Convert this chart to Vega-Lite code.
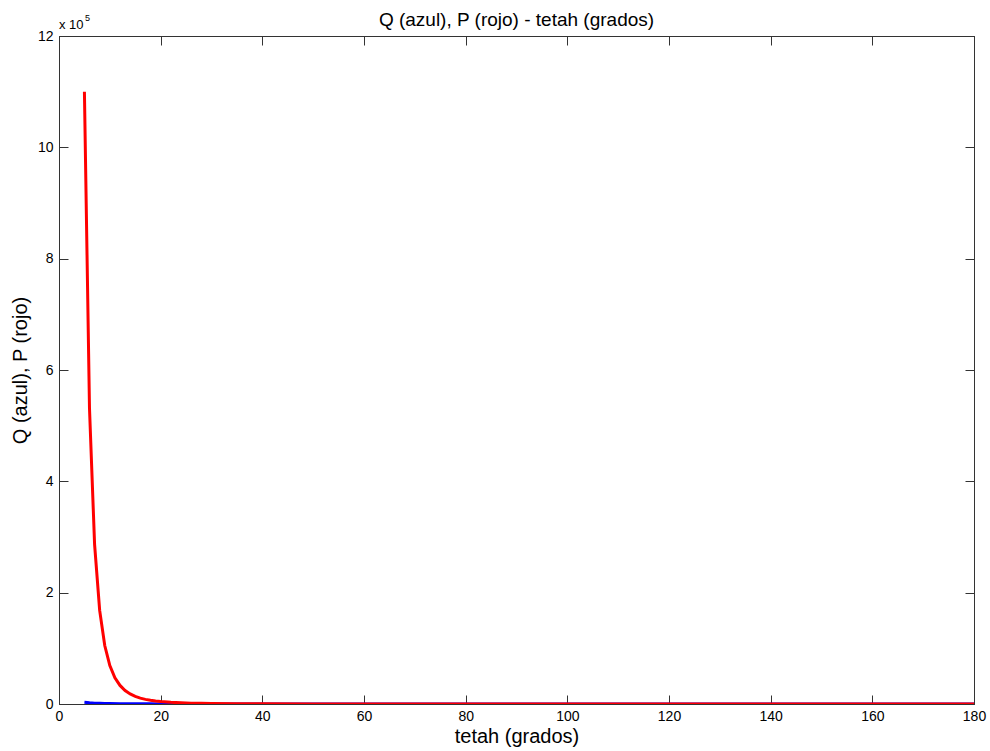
{
  "$schema": "https://vega.github.io/schema/vega-lite/v6.json",
  "autosize": "none",
  "width": 915,
  "height": 668,
  "padding": {"left": 59, "top": 36, "right": 16, "bottom": 47},
  "background": "white",
  "title": {
    "text": "Q (azul), P (rojo) - tetah (grados)",
    "font": "Liberation Sans",
    "fontSize": 19,
    "fontWeight": "normal",
    "color": "#000",
    "offset": -16
  },
  "config": {
    "view": {"stroke": "#333", "strokeWidth": 1},
    "axis": {
      "grid": false,
      "domainColor": "#333",
      "tickColor": "#333",
      "labelFont": "Liberation Sans",
      "labelFontSize": 14,
      "labelColor": "#000",
      "titleFont": "Liberation Sans",
      "titleFontSize": 20,
      "titleFontWeight": "normal",
      "titleColor": "#000"
    }
  },
  "datasets": {
    "curvas": [
      {"theta": 5, "serie": "P", "valor": 1100000},
      {"theta": 6, "serie": "P", "valor": 530775},
      {"theta": 7, "serie": "P", "valor": 286690},
      {"theta": 8, "serie": "P", "valor": 168179},
      {"theta": 9, "serie": "P", "valor": 105084},
      {"theta": 10, "serie": "P", "valor": 69012},
      {"theta": 11, "serie": "P", "valor": 47187},
      {"theta": 12, "serie": "P", "valor": 33356},
      {"theta": 13, "serie": "P", "valor": 24248},
      {"theta": 14, "serie": "P", "valor": 18052},
      {"theta": 15, "serie": "P", "valor": 13719},
      {"theta": 16, "serie": "P", "valor": 10614},
      {"theta": 17, "serie": "P", "valor": 8343},
      {"theta": 18, "serie": "P", "valor": 6649},
      {"theta": 19, "serie": "P", "valor": 5366},
      {"theta": 20, "serie": "P", "valor": 4380},
      {"theta": 22, "serie": "P", "valor": 3004},
      {"theta": 24, "serie": "P", "valor": 2131},
      {"theta": 26, "serie": "P", "valor": 1555},
      {"theta": 28, "serie": "P", "valor": 1163},
      {"theta": 30, "serie": "P", "valor": 887},
      {"theta": 35, "serie": "P", "valor": 487},
      {"theta": 40, "serie": "P", "valor": 291},
      {"theta": 50, "serie": "P", "valor": 125},
      {"theta": 60, "serie": "P", "valor": 63.7},
      {"theta": 80, "serie": "P", "valor": 23.3},
      {"theta": 100, "serie": "P", "valor": 11.6},
      {"theta": 120, "serie": "P", "valor": 7.08},
      {"theta": 140, "serie": "P", "valor": 5.11},
      {"theta": 160, "serie": "P", "valor": 4.23},
      {"theta": 180, "serie": "P", "valor": 3.98},
      {"theta": 5, "serie": "Q", "valor": 3000},
      {"theta": 6, "serie": "Q", "valor": 2085},
      {"theta": 7, "serie": "Q", "valor": 1532},
      {"theta": 8, "serie": "Q", "valor": 1173},
      {"theta": 9, "serie": "Q", "valor": 928},
      {"theta": 10, "serie": "Q", "valor": 752},
      {"theta": 12, "serie": "Q", "valor": 523},
      {"theta": 14, "serie": "Q", "valor": 384},
      {"theta": 16, "serie": "Q", "valor": 295},
      {"theta": 18, "serie": "Q", "valor": 233},
      {"theta": 20, "serie": "Q", "valor": 189},
      {"theta": 25, "serie": "Q", "valor": 122},
      {"theta": 30, "serie": "Q", "valor": 85},
      {"theta": 40, "serie": "Q", "valor": 49},
      {"theta": 60, "serie": "Q", "valor": 23},
      {"theta": 80, "serie": "Q", "valor": 14},
      {"theta": 100, "serie": "Q", "valor": 9.7},
      {"theta": 120, "serie": "Q", "valor": 7.6},
      {"theta": 140, "serie": "Q", "valor": 6.5},
      {"theta": 160, "serie": "Q", "valor": 5.9},
      {"theta": 180, "serie": "Q", "valor": 5.7}
    ],
    "exponente": [
      {"theta": 0, "valor": 1200000}
    ]
  },
  "resolve": {"axis": {"x": "independent", "y": "independent"}},
  "layer": [
    {
      "data": {"name": "curvas"},
      "transform": [{"filter": "datum.serie === 'Q'"}],
      "mark": {"type": "line", "color": "#0000ff", "strokeWidth": 3, "clip": true},
      "encoding": {
        "x": {
          "field": "theta", "type": "quantitative",
          "scale": {"domain": [0, 180], "nice": false, "zero": false},
          "axis": {
            "orient": "bottom", "title": "tetah (grados)",
            "values": [0, 20, 40, 60, 80, 100, 120, 140, 160, 180],
            "tickSize": -9, "labelPadding": 14, "titlePadding": 3,
            "labelFlush": false
          }
        },
        "y": {
          "field": "valor", "type": "quantitative",
          "scale": {"domain": [0, 1200000], "nice": false},
          "axis": {
            "orient": "left", "title": "Q (azul), P (rojo)",
            "values": [0, 200000, 400000, 600000, 800000, 1000000, 1200000],
            "labelExpr": "format(datum.value / 100000, 'd')",
            "tickSize": -9, "labelPadding": 15, "titlePadding": 7,
            "labelFlush": false
          }
        }
      }
    },
    {
      "data": {"name": "curvas"},
      "transform": [{"filter": "datum.serie === 'P'"}],
      "mark": {"type": "line", "color": "#ff0000", "strokeWidth": 3, "clip": true},
      "encoding": {
        "x": {
          "field": "theta", "type": "quantitative",
          "axis": {
            "orient": "top", "title": null, "labels": false,
            "values": [0, 20, 40, 60, 80, 100, 120, 140, 160, 180],
            "tickSize": -9
          }
        },
        "y": {
          "field": "valor", "type": "quantitative",
          "axis": {
            "orient": "right", "title": null, "labels": false,
            "values": [0, 200000, 400000, 600000, 800000, 1000000, 1200000],
            "tickSize": -9
          }
        }
      }
    },
    {
      "data": {"name": "exponente"},
      "mark": {"type": "text", "text": "x 10", "font": "Liberation Sans", "fontSize": 13, "align": "left", "baseline": "alphabetic", "dx": 0, "dy": -7, "color": "#000"},
      "encoding": {
        "x": {"field": "theta", "type": "quantitative", "axis": null},
        "y": {"field": "valor", "type": "quantitative", "axis": null}
      }
    },
    {
      "data": {"name": "exponente"},
      "mark": {"type": "text", "text": "5", "font": "Liberation Sans", "fontSize": 9, "align": "left", "baseline": "alphabetic", "dx": 26, "dy": -15, "color": "#000"},
      "encoding": {
        "x": {"field": "theta", "type": "quantitative", "axis": null},
        "y": {"field": "valor", "type": "quantitative", "axis": null}
      }
    }
  ]
}
